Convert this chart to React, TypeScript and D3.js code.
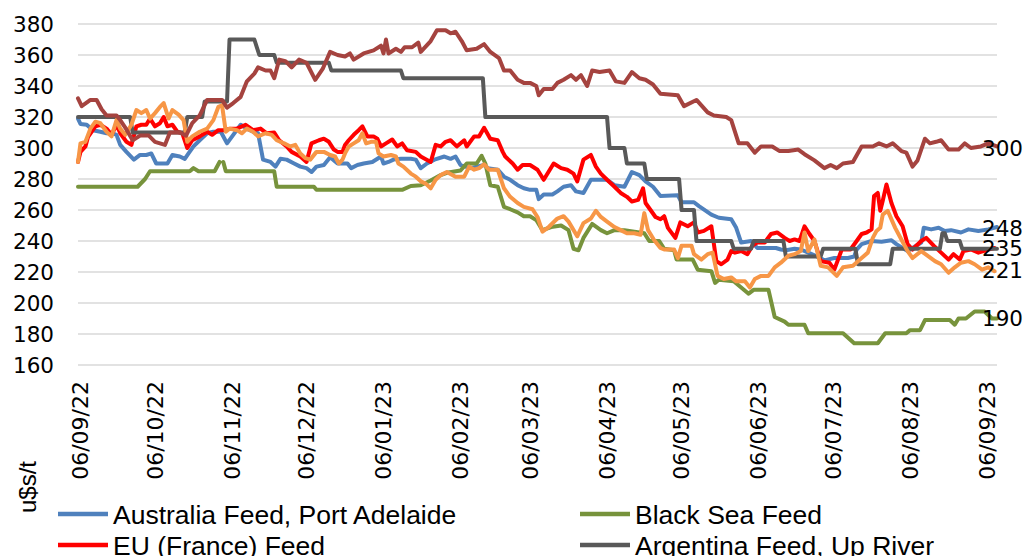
import React, { useRef, useEffect } from 'react';
import * as d3 from 'd3';

// [days since 05/09/22, US$/t]
const australia: [number, number][] = [
  [0,319],[1,315.5],[3.5,315],[6,311.5],[9,310.5],[11.5,309.5],[14,309.5],[15.5,308.5],[17,302],[19.5,297.5],[22.5,292.5],[25,295.5],[27.5,295.5],[29.5,296.5],[31.5,290],[36,290],[38,295.5],[41,294.5],[43,293],[44.5,296.5],[46.5,301],[49,305],[52,309.5],[54.5,310.5],[57.5,310.5],[60,303],[62.5,308.5],[65.5,315],[68,312.5],[70.5,310.5],[72.5,309.5],[74.5,292.5],[77.5,291],[79.5,288],[81.5,293],[84,292.5],[87,290],[89.5,288],[92,287],[94,284.5],[96,288],[99,289],[101.5,294],[104.5,290],[108.5,290],[110,287],[112.5,289],[115,290],[118.5,291],[122,294.5],[123,290],[125,291],[127,292.5],[130,293],[134,293],[136,292.5],[138,287],[140.5,290],[143.5,292.5],[147.5,294.5],[150,293],[152,294.5],[154,289],[158,287],[160.5,288],[163.5,289],[165,287],[169,286],[171.5,281.5],[174,279.5],[177,276],[179.5,274],[182,273],[184.5,273],[185.5,267],[187.5,270],[191,270],[193,272],[195.5,275],[198.5,276],[200.5,272],[203.5,271],[206.5,279.5],[213,279.5],[216,276],[220,275],[223,284.5],[226,282.5],[228.5,278.5],[231.5,275],[234.5,269],[241.5,269.5],[243,265],[248,265],[250,262.5],[255,257],[258,255],[263,254],[265,248.5],[267,239],[271,240],[273.5,235.5],[281,235.5],[283,234.5],[285,234],[288.5,235],[291,234.5],[294,232.5],[297,230.5],[300.5,227.5],[304.5,229],[310,229],[312.5,230],[313.5,234.5],[315.5,238],[319.5,240],[323.5,239.5],[327.5,240.5],[329.5,238],[334,233.5],[336,235.5],[339.5,239],[340.5,248.5],[343.5,247.5],[346.5,248.5],[349,246.5],[351.5,247],[355.5,245.5],[358.5,247.5],[362.5,246.5],[366.5,247.5],[370,249]
];

const blackSea: ([number, number] | null)[] = [
  [0,275],[24,275],[27,280],[29,285],[45,285],[46.5,287],[48.5,285],[55,285],[57,291],null,[58.5,291],[59.5,285],[79,285],[80,275],[95,275],[96,273],[130.5,273],[134,275.5],[138,276],[142,279],[146,282.5],[148.5,284],[154,285.5],[156.5,290],[160.5,290],[162.5,295],[164,290],[166,276],[169,275],[171.5,262],[174,260.5],[177,258.5],[179.5,256],[182,256],[184.5,253.5],[187,247],[190.5,249],[194.5,250],[197.5,247],[199.5,235],[201.5,234],[203.5,242],[207,251],[210.5,247],[213,245],[216,247],[220,247],[224,246],[228,245],[230,240],[234,240],[236,235],[240,234],[241,228],[247.5,228],[249.5,221.5],[255,220.5],[256.5,213],[258,215],[264,214],[270,206],[272,208.5],[278,208.5],[280.5,191],[284.5,188],[286,186],[292.5,186],[294,180.5],[308,180.5],[312.5,174],[322,174],[325,180.5],[333.5,180.5],[335,182.5],[339,182.5],[341,189],[351,189],[353,186],[354.5,190],[357.5,190],[361,194.5],[365,194.5],[368,190],[370,190]
];

const euFrance: [number, number][] = [
  [0,291],[1,297.5],[3,301],[4,307],[7,314],[9,315],[11.5,312.5],[13.5,308.5],[15.5,315],[17,309.5],[19.5,304],[21.5,302],[23.5,314],[25.5,315],[27.5,315],[29,319],[31,314],[33,316],[34.5,320],[36,314],[38,315],[40,310.5],[42,309.5],[44,300],[46,305],[49,307.5],[52,310.5],[54,308.5],[56.5,311.5],[58.5,311.5],[61.5,312.5],[64,312.5],[67.5,315],[70.5,311.5],[73.5,312.5],[76,309.5],[79,310],[81,305],[84,301],[86,297.5],[89.5,294.5],[92,291],[94,303],[97,305],[99,306],[101,304],[103,299],[104.5,297.5],[106.5,297.5],[107.5,302],[109,305],[111,308.5],[113,311.5],[114.5,314],[116.5,307.5],[119,307.5],[120.5,306],[122,301],[124,303],[126.5,305.5],[128.5,301],[130.5,303],[132.5,298.5],[136,297.5],[138,294.5],[142,291],[144,302],[146,301],[148,304],[150,305],[152.5,301],[155.5,305],[156.5,301],[159.5,307.5],[161.5,307.5],[163.5,313],[166,306],[169,305],[171,297.5],[172,294.5],[175,290],[177,286],[179,289],[182,289],[185,286],[187.5,279.5],[191.5,290],[194.5,287],[197,286],[199.5,283.5],[201,278.5],[203.5,292.5],[206.5,295.5],[208.5,288],[210.5,283.5],[213,279.5],[216,275],[218.5,271],[221,268.5],[223,265.5],[225.5,266.5],[227.5,274],[228.5,264.5],[230.5,260],[232.5,255.5],[234.5,254],[236,256],[237.5,248.5],[240.5,242],[242.5,252],[245.5,249.5],[248,252],[249.5,245.5],[252,246.5],[255,249.5],[257,227],[259,225],[261.5,228],[263,233.5],[264.5,232.5],[267,233.5],[269.5,231.5],[271.5,237],[273.5,239],[276.5,239],[279,244.5],[281.5,245.5],[284.5,242],[286.5,240],[288.5,241],[290.5,240],[292.5,249.5],[294.5,244.5],[296.5,240],[299,227],[302.5,226],[304.5,221.5],[307.5,234.5],[311,234.5],[313.5,240],[315.5,244.5],[317.5,245.5],[319.5,247.5],[320.5,269],[322,271],[323,259.5],[324,266],[325.5,276.5],[327.5,264.5],[329.5,256],[332,249.5],[334,238],[336,234.5],[339.5,240],[341.5,242],[344.5,237],[347.5,232.5],[350.5,228],[352.5,231.5],[355,228],[356.5,233.5],[359.5,234.5],[362.5,232.5],[366.5,234.5],[369,235.5]
];

const argentina: [number, number][] = [
  [0,320],[21,320],[22,310],[43,310],[44,320],[50,320],[51,330],[60,330],[61,370],[71,370],[73,360],[79,360],[80,355],[101,355],[102,350],[130,350],[131,345],[163,345],[164,320],[213,320],[214,300],[220,300],[221,290],[228,290],[229,280],[242,280],[243,260],[248,260],[249,240],[263,240],[264,235],[271,235],[272,240],[284,240],[285,230],[299,230],[300,235],[313,235],[314,225],[327,225],[328,235],[347,235],[348,245],[349,245],[350,240],[355,240],[356,235],[370,235]
];

const orangeSeries: [number, number][] = [
  [0,291],[1,303],[3,304],[5,312.5],[7,317],[9,316],[11.5,310.5],[13.5,307.5],[15.5,318],[17,312.5],[19,308.5],[21.5,315],[23.5,324.5],[25.5,322.5],[27.5,324.5],[29,319],[31,322.5],[33,326.5],[34.5,329],[36.5,319],[38,324.5],[40.5,321.5],[42.5,318],[44,304],[46,307.5],[49,310.5],[52,312.5],[54.5,318],[56.5,326.5],[58,327.5],[59.5,310.5],[61,312.5],[64,311.5],[66,309.5],[68,312.5],[70.5,310.5],[72.5,307.5],[75.5,309.5],[78,308.5],[80,305],[83,303],[85.5,301],[87.5,302],[89.5,296.5],[91.5,293.5],[93.5,292.5],[96,297.5],[99,297.5],[101.5,295.5],[103.5,294.5],[105,290],[106.5,292.5],[107.5,296.5],[109,301],[111,303],[113,305],[114.5,309.5],[116,303],[118,304],[120,304],[121,296.5],[123,294.5],[126,295.5],[128,294.5],[129,290],[131,288],[134,283.5],[136,281.5],[138,278.5],[140,277],[142,274],[144,279.5],[146,282.5],[148.5,284.5],[152,281.5],[155.5,281.5],[157.5,288],[159.5,286],[161.5,287],[163.5,289.5],[165.5,286],[169,286],[171.5,274],[174,268.5],[177,264.5],[179.5,262],[183,260.5],[185,255.5],[187,246],[189.5,249],[193,254.5],[195.5,256],[197.5,252.5],[201,243],[203.5,251.5],[206.5,254.5],[208.5,259.5],[210.5,255.5],[213,252.5],[216,249],[218.5,247],[221,245],[224,245],[226.5,244],[228,258],[229.5,247],[232,240.5],[234.5,235.5],[236,234.5],[240,234.5],[241.5,229],[243,237],[247,237],[248,231.5],[251,228],[253.5,231.5],[255.5,232.5],[257.5,217.5],[260,215.5],[263,216.5],[265,214],[268.5,214],[270.5,210],[272.5,215.5],[275,217.5],[278,217.5],[280.5,223],[283,226],[286,230.5],[288.5,231.5],[291,233.5],[292.5,245.5],[294,233.5],[296.5,241],[299,224],[302,223],[305.5,217.5],[308,223],[312,224],[315.5,229],[318,232.5],[320,242],[321.5,246.5],[323,248.5],[324,257],[326,259.5],[329,248.5],[331.5,241],[334,233.5],[336,229],[339.5,233.5],[342,230.5],[345,227],[347.5,225],[350.5,219.5],[353,223],[355.5,226],[358.5,227],[361,225],[364,221.5],[366.5,223],[369,220.5]
];

const brownSeries: [number, number][] = [
  [0,332],[1.5,327],[5,331],[7.5,331],[9.5,325],[11.5,321],[15.5,321],[17,318],[19.5,312],[22,305],[25,308],[28.5,308],[31,304],[35,302],[37,310],[41,310],[43.5,308],[46,316],[49,321],[52,331],[58,331],[60,326],[62.5,329],[65.5,333],[68,343],[71,348],[72.5,352],[75.5,350],[77.5,350],[79,345],[81,357],[83.5,356],[86,352],[89,357],[92,355],[95.5,344],[98.5,351],[101.5,362],[104.5,360],[107.5,359],[109.5,361],[111,357],[115,361],[119,363],[122,366],[123,361],[124,370],[125,361],[128,364],[130,362],[131.5,365],[134.5,365],[137,368],[138,362],[142,369],[144.5,376],[148,376],[150,374],[152,375],[154.5,369],[156.5,363],[160.5,364],[163.5,367],[166,362],[169.5,358],[171.5,350],[174,350],[177,344],[179.5,342],[182,342],[184.5,340],[185.5,334],[187.5,338],[191,338],[193,342],[195.5,344],[198.5,347],[200.5,344],[202.5,347],[205,340],[207,350],[210,349],[214,350],[216.5,343],[220,342],[223,349],[226,345],[228.5,344],[231.5,341],[234.5,335],[241.5,334],[244,327],[249,331],[253.5,323],[256,321],[261,320],[263,318],[266,303],[269.5,303],[272.5,297],[275,301],[279.5,301],[282.5,298],[286,298],[290,299],[292.5,296],[296.5,292],[300.5,287],[303,289],[305.5,287],[308,290],[312,291],[315.5,301],[320,301],[322.5,303],[325.5,301],[328,303],[331.5,298],[333.5,297],[336,288],[338,292],[341,306],[343,303],[345.5,304],[347.5,305],[350.5,299],[354.5,299],[357,303],[359.5,300],[363.5,301],[366.5,303],[370,301]
];

const xTickLabels = ['06/09/22','06/10/22','06/11/22','06/12/22','06/01/23','06/02/23','06/03/23','06/04/23','06/05/23','06/06/23','06/07/23','06/08/23','06/09/23'];
const yTicks = [160, 180, 200, 220, 240, 260, 280, 300, 320, 340, 360, 380];
const endLabels = [
  { text: '300', value: 300 },
  { text: '248', value: 248 },
  { text: '235', value: 235 },
  { text: '221', value: 221 },
  { text: '190', value: 190 },
];

const series = [
  { name: 'Australia Feed, Port Adelaide', color: '#4F81BD', data: australia },
  { name: 'Black Sea Feed', color: '#77933C', data: blackSea },
  { name: 'EU (France) Feed', color: '#FF0000', data: euFrance },
  { name: 'Argentina Feed, Up River', color: '#595959', data: argentina },
  { name: '', color: '#F79646', data: orangeSeries },
  { name: '', color: '#A5433F', data: brownSeries },
];

const WIDTH = 1027;
const HEIGHT = 556;
const TICK_FONT = '"DejaVu Sans", sans-serif';
const TEXT_FONT = '"Liberation Sans", Arial, sans-serif';

const FeedPriceChart = () => {
  const svgRef = useRef<SVGSVGElement>(null);

  useEffect(() => {
    const svg = d3.select(svgRef.current);
    svg.selectAll('*').remove();

    const start = new Date(2022, 8, 5);
    const toDate = (day: number) => new Date(start.getTime() + day * 86400000);

    const x = d3.scaleTime().domain([start, new Date(2023, 8, 10)]).range([78, 997]);
    const y = d3.scaleLinear().domain([160, 380]).range([365, 24]);

    svg.append('rect').attr('width', WIDTH).attr('height', HEIGHT).attr('fill', '#fff');

    // gridlines
    svg.append('g')
      .selectAll('line')
      .data(yTicks)
      .enter()
      .append('line')
      .attr('x1', 78)
      .attr('x2', 997)
      .attr('y1', d => y(d))
      .attr('y2', d => y(d))
      .attr('stroke', '#D9D9D9')
      .attr('stroke-width', 1.3);

    // y labels
    svg.append('g')
      .selectAll('text')
      .data(yTicks)
      .enter()
      .append('text')
      .attr('x', 54)
      .attr('y', d => y(d))
      .attr('dy', '0.36em')
      .attr('text-anchor', 'end')
      .attr('font-family', TICK_FONT)
      .attr('font-size', 21.5)
      .attr('fill', '#000')
      .text(d => d);

    // x labels
    const parse = d3.timeParse('%d/%m/%y');
    svg.append('g')
      .selectAll('text')
      .data(xTickLabels)
      .enter()
      .append('text')
      .attr('transform', d => `translate(${x(parse(d) as Date)},381) rotate(-90)`)
      .attr('dy', '0.36em')
      .attr('text-anchor', 'end')
      .attr('font-family', TICK_FONT)
      .attr('font-size', 22)
      .attr('fill', '#000')
      .text(d => d);

    // lines
    const line = d3.line<[number, number] | null>()
      .defined(d => d != null)
      .x(d => x(toDate((d as [number, number])[0])))
      .y(d => y((d as [number, number])[1]));

    series.forEach(s => {
      svg.append('path')
        .datum(s.data as ([number, number] | null)[])
        .attr('d', line)
        .attr('fill', 'none')
        .attr('stroke', s.color)
        .attr('stroke-width', 4)
        .attr('stroke-linejoin', 'round')
        .attr('stroke-linecap', 'round');
    });

    // end value labels
    svg.append('g')
      .selectAll('text')
      .data(endLabels)
      .enter()
      .append('text')
      .attr('x', 982)
      .attr('y', d => y(d.value))
      .attr('dy', '0.36em')
      .attr('font-family', TICK_FONT)
      .attr('font-size', 21.5)
      .attr('fill', '#000')
      .text(d => d.text);

    // y axis title
    svg.append('text')
      .attr('transform', 'translate(28,487) rotate(-90)')
      .attr('dy', '0.35em')
      .attr('text-anchor', 'middle')
      .attr('font-family', TEXT_FONT)
      .attr('font-size', 24)
      .attr('fill', '#000')
      .text('u$s/t');

    // legend
    const legendPos = [
      { lx: 58, ly: 514 },
      { lx: 580, ly: 514 },
      { lx: 58, ly: 545 },
      { lx: 580, ly: 545 },
    ];
    const legend = svg.append('g');
    series.slice(0, 4).forEach((s, i) => {
      const p = legendPos[i];
      legend.append('line')
        .attr('x1', p.lx)
        .attr('x2', p.lx + 50)
        .attr('y1', p.ly)
        .attr('y2', p.ly)
        .attr('stroke', s.color)
        .attr('stroke-width', 4.5);
      legend.append('text')
        .attr('x', p.lx + 55)
        .attr('y', p.ly)
        .attr('dy', '0.36em')
        .attr('font-family', TEXT_FONT)
        .attr('font-size', 26.5)
        .attr('fill', '#000')
        .text(s.name);
    });
  }, []);

  return (
    <svg
      ref={svgRef}
      width={WIDTH}
      height={HEIGHT}
      style={{ position: 'absolute', left: 0, top: 0 }}
    ></svg>
  );
};

export default function App() {
  return <FeedPriceChart />;
}
